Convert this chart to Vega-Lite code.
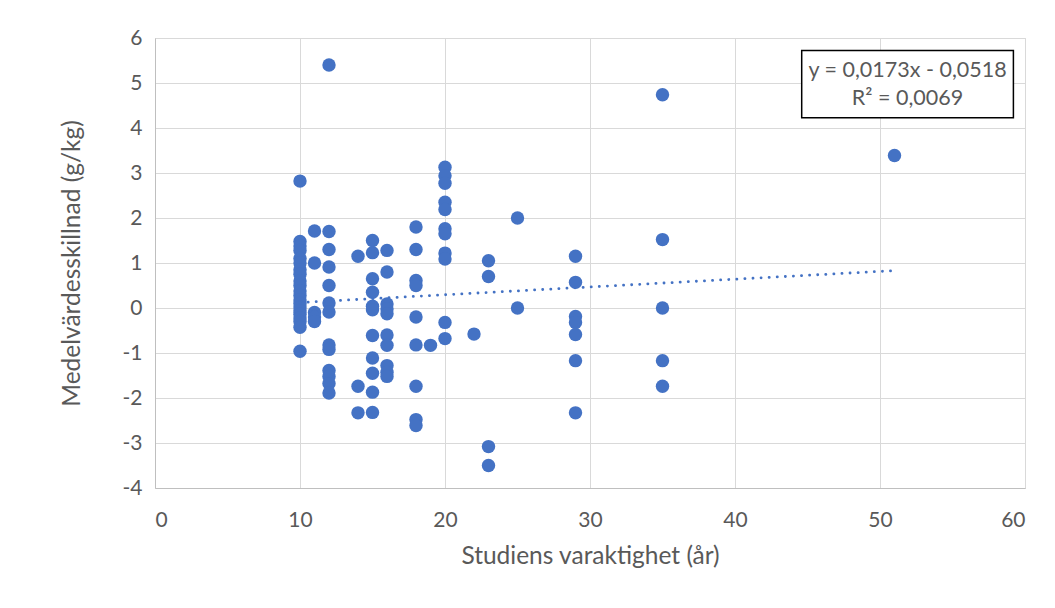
{
  "$schema": "https://vega.github.io/schema/vega-lite/v6.json",
  "autosize": {"type": "none"},
  "width": 870,
  "height": 450,
  "padding": {"left": 155, "top": 38, "right": 30, "bottom": 120},
  "background": "white",
  "config": {
    "view": {"stroke": "#D9D9D9", "strokeWidth": 1},
    "font": "Lato",
    "axis": {
      "grid": true,
      "gridColor": "#D9D9D9",
      "gridWidth": 1,
      "domainColor": "#BFBFBF",
      "domainWidth": 1,
      "ticks": false,
      "labelColor": "#595959",
      "labelFontSize": 21,
      "labelFont": "Lato",
      "labelExpr": "toString(datum.value)",
      "titleColor": "#595959",
      "titleFontSize": 24.5,
      "titleFont": "Lato",
      "titleFontWeight": "normal"
    }
  },
  "datasets": {
    "studies": [
      {"years": 10, "diff": 2.82}, {"years": 10, "diff": 1.48}, {"years": 10, "diff": 1.38},
      {"years": 10, "diff": 1.28}, {"years": 10, "diff": 1.1}, {"years": 10, "diff": 1.0},
      {"years": 10, "diff": 0.85}, {"years": 10, "diff": 0.75}, {"years": 10, "diff": 0.6},
      {"years": 10, "diff": 0.5}, {"years": 10, "diff": 0.38}, {"years": 10, "diff": 0.28},
      {"years": 10, "diff": 0.18}, {"years": 10, "diff": 0.1}, {"years": 10, "diff": 0.02},
      {"years": 10, "diff": -0.06}, {"years": 10, "diff": -0.14}, {"years": 10, "diff": -0.22},
      {"years": 10, "diff": -0.3}, {"years": 10, "diff": -0.43}, {"years": 10, "diff": -0.96},
      {"years": 11, "diff": 1.71}, {"years": 11, "diff": 1.0}, {"years": 11, "diff": -0.1},
      {"years": 11, "diff": -0.2}, {"years": 11, "diff": -0.3},
      {"years": 12, "diff": 5.4}, {"years": 12, "diff": 1.7}, {"years": 12, "diff": 1.3},
      {"years": 12, "diff": 0.91}, {"years": 12, "diff": 0.5}, {"years": 12, "diff": 0.11},
      {"years": 12, "diff": -0.09}, {"years": 12, "diff": -0.82}, {"years": 12, "diff": -0.92},
      {"years": 12, "diff": -1.39}, {"years": 12, "diff": -1.52}, {"years": 12, "diff": -1.68},
      {"years": 12, "diff": -1.89},
      {"years": 14, "diff": 1.15}, {"years": 14, "diff": -1.74}, {"years": 14, "diff": -2.33},
      {"years": 15, "diff": 1.5}, {"years": 15, "diff": 1.23}, {"years": 15, "diff": 0.65},
      {"years": 15, "diff": 0.35}, {"years": 15, "diff": 0.04}, {"years": 15, "diff": -0.04},
      {"years": 15, "diff": -0.61}, {"years": 15, "diff": -1.11}, {"years": 15, "diff": -1.45},
      {"years": 15, "diff": -1.87}, {"years": 15, "diff": -2.32},
      {"years": 16, "diff": 1.28}, {"years": 16, "diff": 0.8}, {"years": 16, "diff": 0.09},
      {"years": 16, "diff": -0.02}, {"years": 16, "diff": -0.13}, {"years": 16, "diff": -0.6},
      {"years": 16, "diff": -0.83}, {"years": 16, "diff": -1.28}, {"years": 16, "diff": -1.43},
      {"years": 16, "diff": -1.52},
      {"years": 18, "diff": 1.8}, {"years": 18, "diff": 1.3}, {"years": 18, "diff": 0.61},
      {"years": 18, "diff": 0.5}, {"years": 18, "diff": -0.2}, {"years": 18, "diff": -0.82},
      {"years": 18, "diff": -1.74}, {"years": 18, "diff": -2.48}, {"years": 18, "diff": -2.61},
      {"years": 19, "diff": -0.83},
      {"years": 20, "diff": 3.13}, {"years": 20, "diff": 2.94}, {"years": 20, "diff": 2.77},
      {"years": 20, "diff": 2.35}, {"years": 20, "diff": 2.19}, {"years": 20, "diff": 1.76},
      {"years": 20, "diff": 1.65}, {"years": 20, "diff": 1.22}, {"years": 20, "diff": 1.09},
      {"years": 20, "diff": -0.32}, {"years": 20, "diff": -0.68},
      {"years": 22, "diff": -0.58},
      {"years": 23, "diff": 1.05}, {"years": 23, "diff": 0.7}, {"years": 23, "diff": -3.08},
      {"years": 23, "diff": -3.5},
      {"years": 25, "diff": 2.0}, {"years": 25, "diff": 0.0},
      {"years": 29, "diff": 1.15}, {"years": 29, "diff": 0.57}, {"years": 29, "diff": -0.19},
      {"years": 29, "diff": -0.32}, {"years": 29, "diff": -0.59}, {"years": 29, "diff": -1.17},
      {"years": 29, "diff": -2.33},
      {"years": 35, "diff": 4.74}, {"years": 35, "diff": 1.52}, {"years": 35, "diff": 0.0},
      {"years": 35, "diff": -1.17}, {"years": 35, "diff": -1.74},
      {"years": 51, "diff": 3.39}
    ],
    "trend": [
      {"years": 10, "diff": 0.1212},
      {"years": 51, "diff": 0.8305}
    ]
  },
  "layer": [
    {
      "data": {"name": "studies"},
      "mark": {"type": "circle", "size": 180, "color": "#4472C4", "opacity": 1},
      "encoding": {
        "x": {
          "field": "years",
          "type": "quantitative",
          "scale": {"domain": [0, 60], "nice": false, "zero": false},
          "axis": {
            "values": [0, 10, 20, 30, 40, 50, 60],
            "title": "Studiens varaktighet (år)",
            "labelPadding": 21,
            "titlePadding": 14
          }
        },
        "y": {
          "field": "diff",
          "type": "quantitative",
          "scale": {"domain": [-4, 6], "nice": false, "zero": false},
          "axis": {
            "values": [-4, -3, -2, -1, 0, 1, 2, 3, 4, 5, 6],
            "title": "Medelvärdesskillnad (g/kg)",
            "labelPadding": 13,
            "titlePadding": 38
          }
        }
      }
    },
    {
      "data": {"name": "trend"},
      "mark": {"type": "line", "color": "#4472C4", "strokeWidth": 2.8, "strokeDash": [0.1, 8], "strokeCap": "round"},
      "encoding": {
        "x": {"field": "years", "type": "quantitative"},
        "y": {"field": "diff", "type": "quantitative"}
      }
    },
    {
      "data": {"values": [{}]},
      "mark": {"type": "rect", "fill": "white", "stroke": "black", "strokeWidth": 1.5},
      "encoding": {
        "x": {"datum": 44.6, "type": "quantitative"},
        "x2": {"datum": 59.2},
        "y": {"datum": 5.72, "type": "quantitative"},
        "y2": {"datum": 4.23}
      }
    },
    {
      "data": {"values": [{"eq": "y = 0,0173x - 0,0518", "r2": "R² = 0,0069"}]},
      "mark": {"type": "text", "font": "Lato", "fontSize": 21.5, "color": "#595959", "align": "center", "baseline": "middle"},
      "encoding": {
        "x": {"datum": 51.9, "type": "quantitative"},
        "y": {"datum": 5.26, "type": "quantitative"},
        "text": {"field": "eq"}
      }
    },
    {
      "data": {"values": [{"eq": "y = 0,0173x - 0,0518", "r2": "R² = 0,0069"}]},
      "mark": {"type": "text", "font": "Lato", "fontSize": 21.5, "color": "#595959", "align": "center", "baseline": "middle"},
      "encoding": {
        "x": {"datum": 51.9, "type": "quantitative"},
        "y": {"datum": 4.64, "type": "quantitative"},
        "text": {"field": "r2"}
      }
    }
  ]
}
